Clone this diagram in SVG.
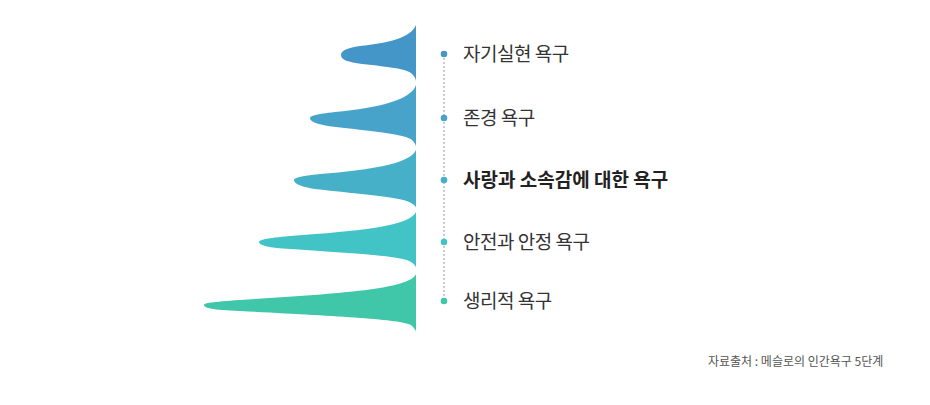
<svg xmlns="http://www.w3.org/2000/svg" width="930" height="405" viewBox="0 0 930 405">
<style>
.lbl{font-family:"Noto Sans CJK KR","Noto Sans",sans-serif;font-size:19px;fill:#333;letter-spacing:-0.5px}
.bold{font-weight:bold;fill:#222;letter-spacing:0px}
.cap{font-family:"Noto Sans CJK KR","Noto Sans",sans-serif;font-size:12px;fill:#555}
</style>
<rect width="930" height="405" fill="#fff"/>
<g id="connectors">
<line x1="444" y1="54" x2="444" y2="301" stroke="#9a9a9a" stroke-width="1" stroke-dasharray="2,2"/>
</g>
<g id="level1">
<path d="M416,25 C411,38 388,43 360,46 C346,48 341,51 341,55 C341,60 348,62 362,64 C390,67 408,69 412,74 C415,77 416,79 416,82 Z" fill="#4496c9"/>
<circle cx="444" cy="54" r="3.3" fill="#4496c9"/>
<text class="lbl" x="463" y="61">자기실현 욕구</text>
</g>
<g id="level2">
<path d="M416,85 C412,99 380,108 335,112 C316,114 310,116 310,118 C310,122 318,125 336,127 C382,132 406,135 412,140 C415,143 416,145 416,147 Z" fill="#47a3ca"/>
<circle cx="444" cy="118" r="3.3" fill="#47a3ca"/>
<text class="lbl" x="463" y="125">존경 욕구</text>
</g>
<g id="level3">
<path d="M416,150 C410,164 370,170 320,174 C300,176 294,178 294,180 C294,184 303,188 324,190 C372,195 404,198 411,203 C414,205 416,206 416,208 Z" fill="#45b0c8"/>
<circle cx="444" cy="180" r="3.3" fill="#45b0c8"/>
<text class="lbl bold" x="463" y="187">사랑과 소속감에 대한 욕구</text>
</g>
<g id="level4">
<path d="M416,212 C410,226 360,231 290,236 C266,238 259,240 259,242 C259,245 268,248 291,249 C362,254 402,256 411,262 C414,264 416,266 416,268 Z" fill="#42c4c7"/>
<circle cx="444" cy="242" r="3.3" fill="#42c4c7"/>
<text class="lbl" x="463" y="249">안전과 안정 욕구</text>
</g>
<g id="level5">
<path d="M416,274 C410,290 330,294 240,300 C212,302 204,303 204,305 C204,308 212,310 240,311 C332,316 400,319 411,325 C414,328 416,330 416,332 Z" fill="#40c6a8"/>
<circle cx="444" cy="301" r="3.3" fill="#40c6a8"/>
<text class="lbl" x="463" y="308">생리적 욕구</text>
</g>
<g id="caption">
<text class="cap" x="708" y="366">자료출처 : 메슬로의 인간욕구 5단계</text>
</g>
</svg>
